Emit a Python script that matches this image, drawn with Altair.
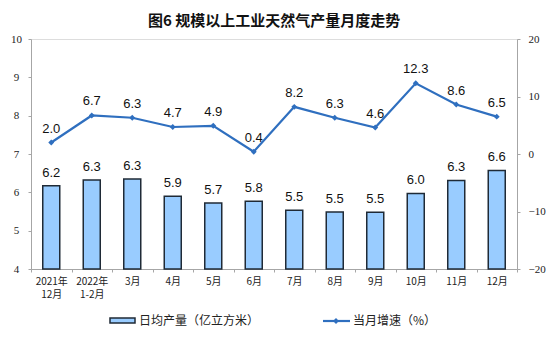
import altair as alt
import pandas as pd

months = ["2021年\n12月", "2022年\n1-2月", "3月", "4月", "5月", "6月",
          "7月", "8月", "9月", "10月", "11月", "12月"]
daily_output = [6.2, 6.3, 6.3, 5.9, 5.7, 5.8, 5.5, 5.5, 5.5, 6.0, 6.3, 6.6]
bar_heights = [6.17, 6.32, 6.35, 5.90, 5.72, 5.77, 5.53, 5.49, 5.48, 5.97, 6.31, 6.57]
growth = [2.0, 6.7, 6.3, 4.7, 4.9, 0.4, 8.2, 6.3, 4.6, 12.3, 8.6, 6.5]

df = pd.DataFrame({
    "month": months,
    "output": bar_heights,
    "output_label": [f"{v:.1f}" for v in daily_output],
    "growth": growth,
    "growth_label": [f"{v:.1f}" for v in growth],
})

BLUE = "#2F6FBF"
GREY = "#A6A6A6"
CJK = "Noto Sans CJK SC"

x_enc = alt.X("month:N", sort=months, title=None,
              scale=alt.Scale(paddingInner=0, paddingOuter=0),
              axis=alt.Axis(labelAngle=0, labelExpr="split(datum.label, '\\n')",
                            labelFont=CJK, labelFontSize=10, labelColor="#222",
                            labelLineHeight=13, labelPadding=4,
                            domainColor=GREY, tickColor=GREY, tickSize=3,
                            tickBand="extent", labelBaseline="top"))

ybar = alt.Y("output:Q", title=None,
             scale=alt.Scale(domain=[4, 10], nice=False, zero=False),
             axis=alt.Axis(orient="left", values=[4, 5, 6, 7, 8, 9, 10], grid=False,
                           labelFont="Liberation Serif", labelFontSize=11,
                           labelColor="#222", domainColor=GREY, tickColor=GREY,
                           tickSize=3, labelPadding=12, labelAlign="center"))

bars = alt.Chart(df).mark_bar(size=17, color="#99CCFF", stroke="#1F2A36",
                              strokeWidth=1.5).encode(x=x_enc, y=ybar, y2=alt.datum(4))
bar_text = alt.Chart(df).mark_text(baseline="bottom", dy=-6, font="Liberation Sans",
                                   fontSize=13, color="#111").encode(
    x=alt.X("month:N", sort=months), y=ybar, text="output_label:N")
bar_layer = alt.layer(bars, bar_text)

yline = alt.Y("growth:Q", title=None,
              scale=alt.Scale(domain=[-20, 20], nice=False),
              axis=alt.Axis(orient="right", values=[-20, -10, 0, 10, 20], grid=False,
                            labelFont="Liberation Serif", labelFontSize=11,
                            labelColor="#222", domainColor=GREY, tickColor=GREY,
                            tickSize=3, labelPadding=8))

line = alt.Chart(df).mark_line(color=BLUE, strokeWidth=2.2,
                               point=alt.OverlayMarkDef(shape="diamond", size=35,
                                                        filled=True, color=BLUE)).encode(
    x=alt.X("month:N", sort=months), y=yline)
line_text = alt.Chart(df).mark_text(baseline="bottom", dy=-7, font="Liberation Sans",
                                    fontSize=13, color="#111").encode(
    x=alt.X("month:N", sort=months), y=yline, text="growth_label:N")
line_layer = alt.layer(line, line_text)

one = pd.DataFrame({"k": [0]})
leg_rect = alt.Chart(one).mark_rect(color="#99CCFF", stroke="#1F2A36", strokeWidth=1.5).encode(
    x=alt.value(79), x2=alt.value(104), y=alt.value(279), y2=alt.value(284))
leg_text1 = alt.Chart(one).mark_text(align="left", baseline="middle", font=CJK,
                                     fontSize=12, color="#222").encode(
    x=alt.value(108), y=alt.value(282), text=alt.value("日均产量（亿立方米）"))
leg_line = alt.Chart(one).mark_rule(color=BLUE, strokeWidth=2.2).encode(
    x=alt.value(292), x2=alt.value(319), y=alt.value(282))
leg_pt = alt.Chart(one).mark_point(shape="diamond", size=35, filled=True, color=BLUE,
                                   opacity=1).encode(x=alt.value(305), y=alt.value(282))
leg_text2 = alt.Chart(one).mark_text(align="left", baseline="middle", font=CJK,
                                     fontSize=12, color="#222").encode(
    x=alt.value(322), y=alt.value(282), text=alt.value("当月增速（%）"))
legend = alt.layer(leg_rect, leg_text1, leg_line, leg_pt, leg_text2)

chart = alt.layer(bar_layer, line_layer, legend).resolve_scale(y="independent").properties(
    width=486, height=230,
    autosize="none",
    padding={"left": 31, "top": 39, "right": 37, "bottom": 84},
    title=alt.TitleParams("图6  规模以上工业天然气产量月度走势", font=CJK, fontSize=15,
                          fontWeight="bold", color="#111", anchor="middle", offset=4),
).configure_view(stroke=None).configure(background="white")

chart.save("out.html", embed_options={"renderer": "svg", "actions": False})
